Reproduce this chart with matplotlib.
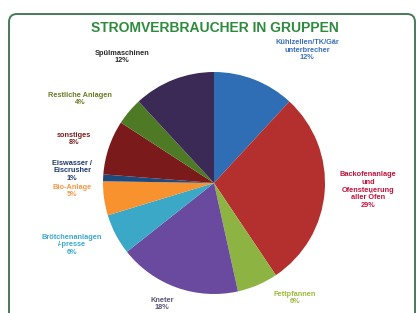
import matplotlib
matplotlib.use("Agg")
from matplotlib import pyplot as plt
from matplotlib.patches import FancyBboxPatch

plt.rcParams['font.family'] = ['Liberation Sans', 'DejaVu Sans']

labels = ['Kühlzellen/TK/Gär\nunterbrecher', 'Backofenanlage\nund\nOfensteuerung\naller Öfen',
          'Fettpfannen', 'Kneter', 'Brötchenanlagen\n/-presse', 'Bio-Anlage',
          'Eiswasser /\nEiscrusher', 'sonstiges', 'Restliche Anlagen', 'Spülmaschinen']
values = [12, 29, 6, 18, 6, 5, 1, 8, 4, 12]
slice_colors = ['#2F6DB5', '#B3302E', '#8DB443', '#6A4A9E', '#3AA8C6',
                '#F7922F', '#1F4A7E', '#7B1A1A', '#4E7A25', '#3B2A55']
text_colors = ['#3A6FBF', '#C0143C', '#9BBB3B', '#5A5478', '#3AA8D0',
               '#F79646', '#1F3A6A', '#7A1F1F', '#6B7A22', '#2A2A2A']
# label centres in pixels (x, y from top)
label_pos = [(307, 50), (368, 190), (295, 298), (162, 304), (72, 245),
             (72, 191), (72, 171), (74, 139), (80, 99), (122, 57)]

W, H = 419, 313
fig = plt.figure(figsize=(W / 100, H / 100), dpi=100)
ax = fig.add_axes([0, 0, 1, 1])
ax.set_xlim(0, W)
ax.set_ylim(0, H)
ax.set_aspect('auto')
ax.axis('off')

frame = FancyBboxPatch((9, -20), 406, H - 14 + 20, boxstyle='round,pad=0,rounding_size=8',
                       facecolor='white', edgecolor='#4A7A5A', linewidth=1.4)
ax.add_patch(frame)

ax.pie(values, colors=slice_colors, startangle=90, counterclock=False,
       center=(214, H - 183), radius=111, wedgeprops=dict(linewidth=0),
       frame=True)
ax.set_xlim(0, W)
ax.set_ylim(0, H)
ax.axis('off')

for lab, v, c, (x, y) in zip(labels, values, text_colors, label_pos):
    ax.text(x, H - y, f'{lab}\n{v}%', ha='center', va='center', fontsize=5.3,
            fontweight='bold', color=c, linespacing=1.15)

ax.text(215, H - 28, 'STROMVERBRAUCHER IN GRUPPEN', ha='center', va='center',
        fontsize=10, fontweight='bold', color='#2E8B3E')

fig.savefig('out.png', dpi=100)
